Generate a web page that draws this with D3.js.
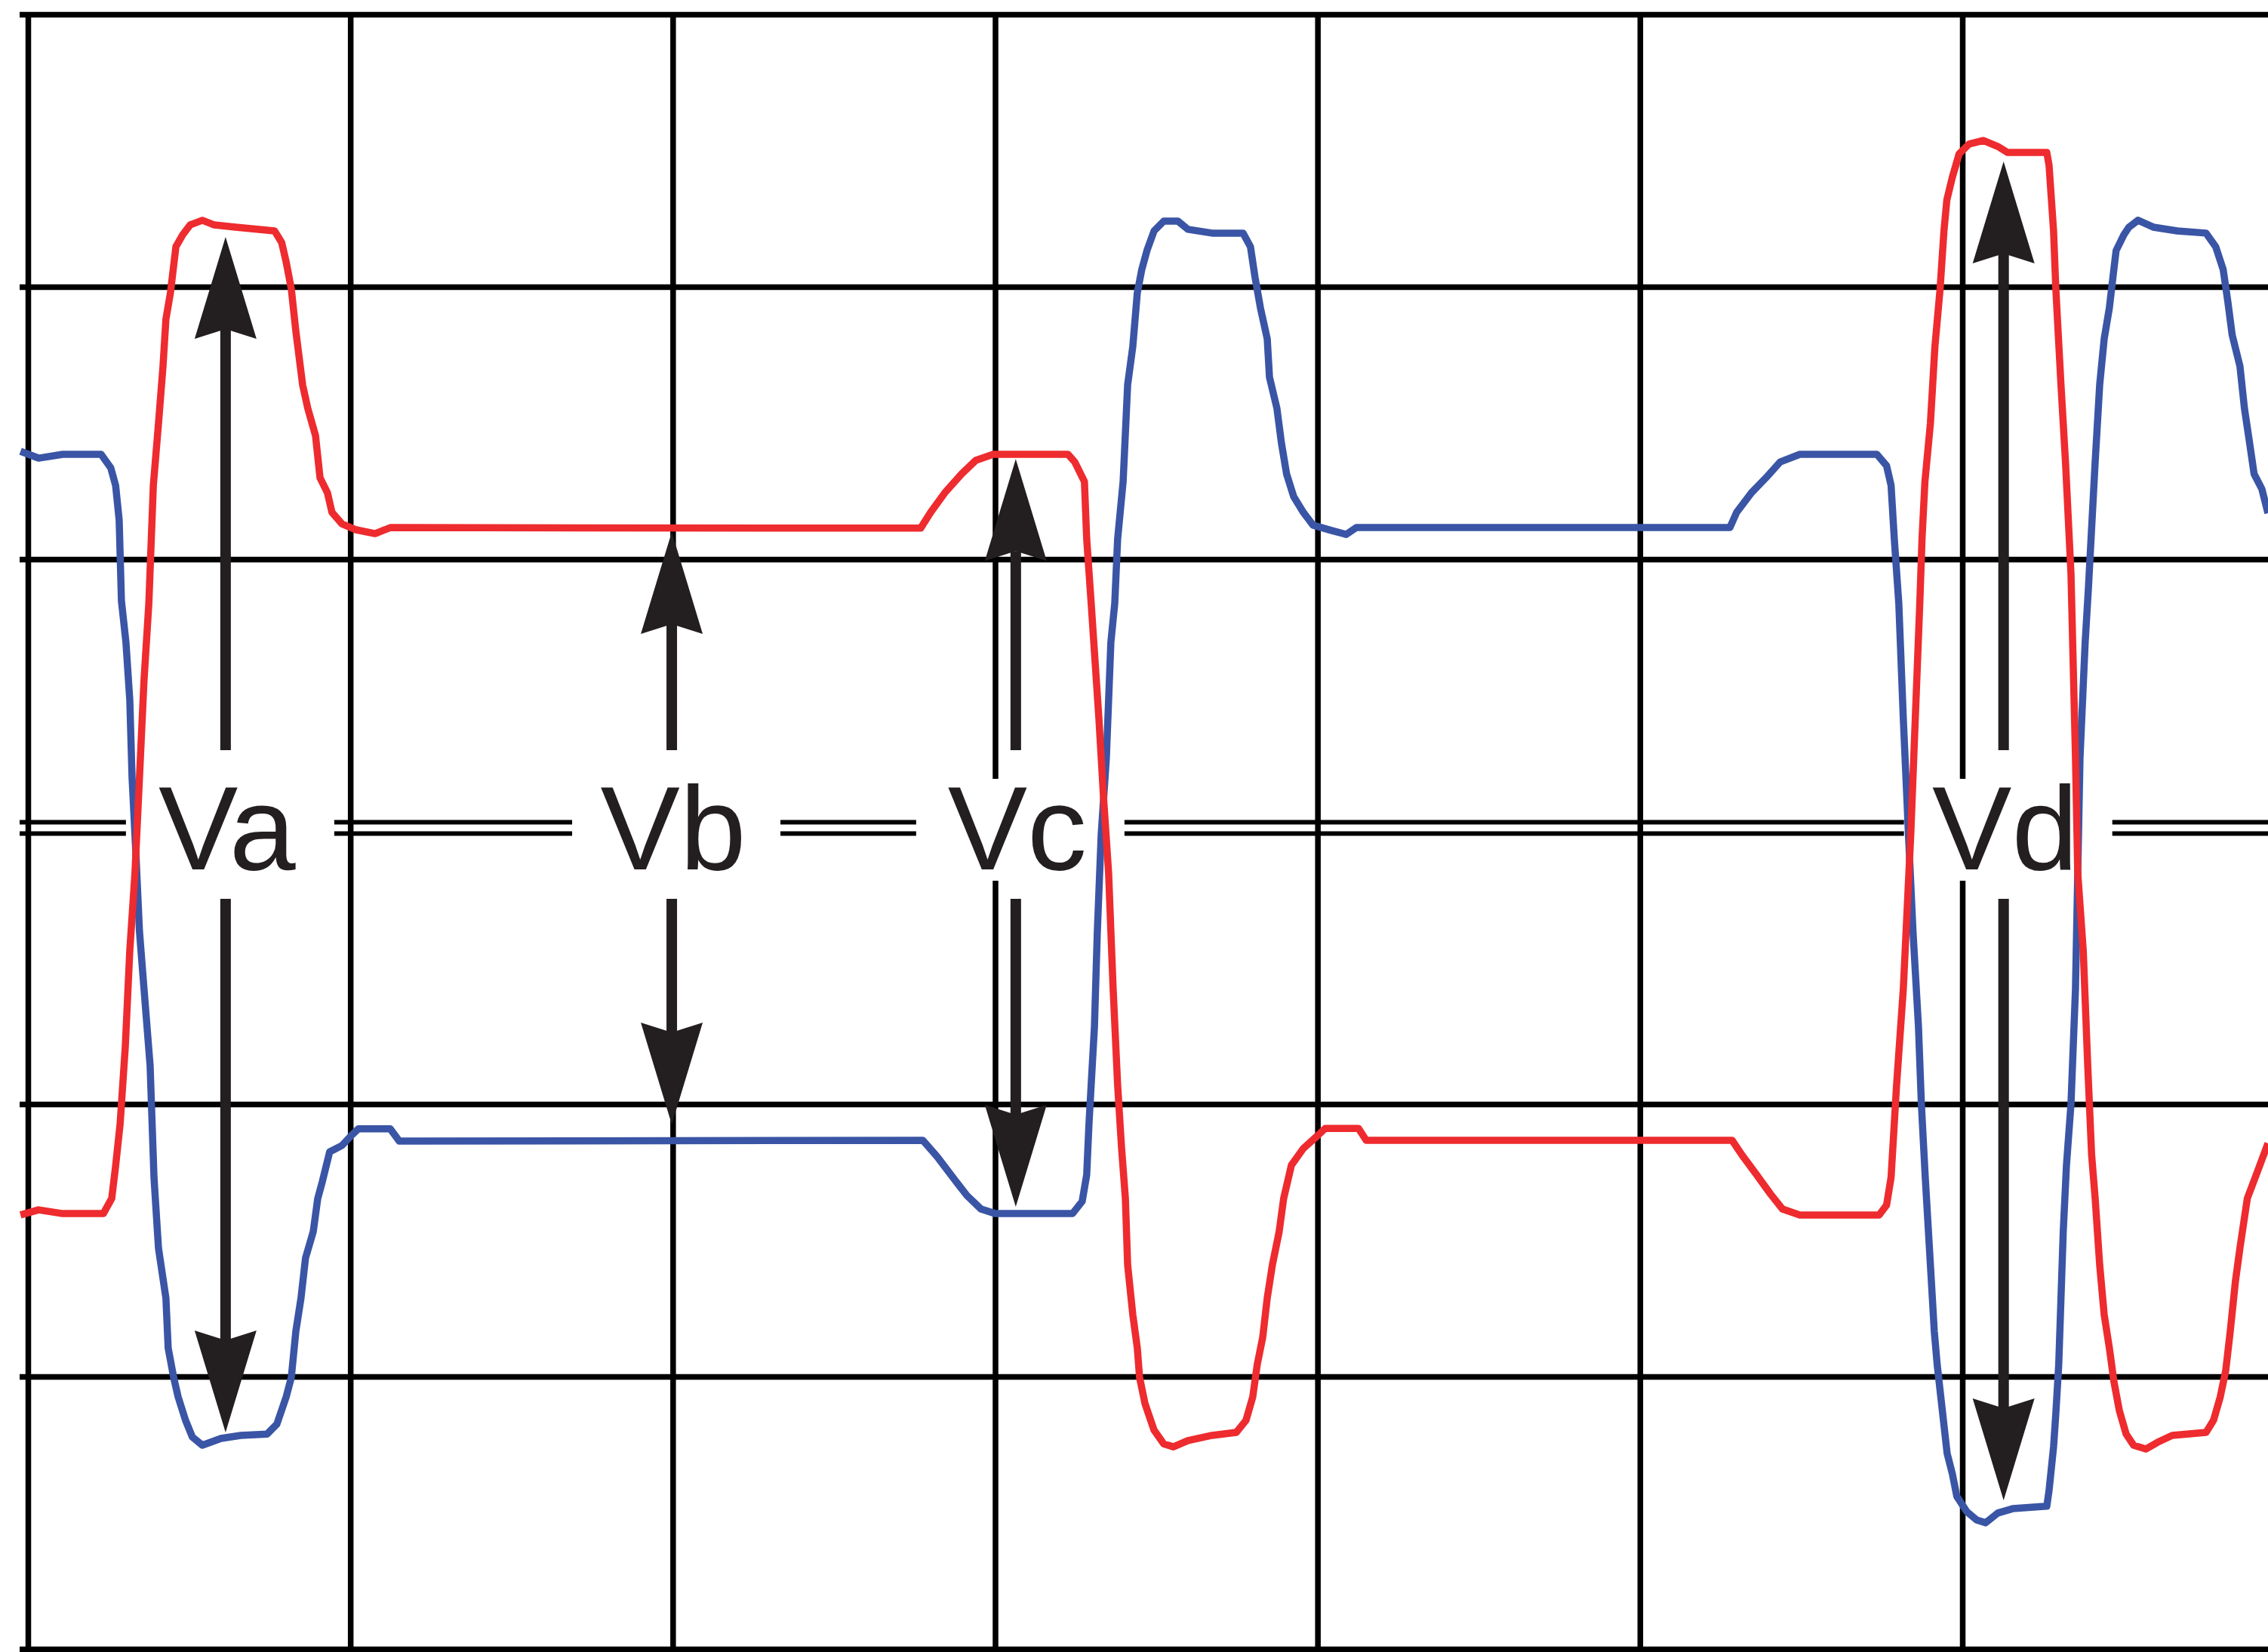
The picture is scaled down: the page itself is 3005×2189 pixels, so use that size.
<!DOCTYPE html>
<html>
<head>
<meta charset="utf-8">
<script src="https://cdn.jsdelivr.net/npm/d3@7"></script>
<style>
  html, body { margin: 0; padding: 0; background: #fff; }
  svg { display: block; }
</style>
</head>
<body>
<svg id="chart"></svg>
<script>
// time and voltage are both in scope divisions
const timeTicks = [0, 1, 2, 3, 4, 5, 6, 7];
const voltTicks = [-3, -2, -1, 1, 2, 3];

const redTrace = [
  [-0.023,-1.407],[0.033,-1.388],[0.108,-1.402],[0.234,-1.402],[0.260,-1.346],[0.272,-1.227],[0.286,-1.072],
  [0.302,-0.789],[0.316,-0.435],[0.332,-0.152],[0.346,0.199],[0.360,0.554],[0.375,0.837],[0.389,1.271],
  [0.405,1.499],[0.419,1.709],[0.428,1.881],[0.442,1.978],[0.459,2.147],[0.480,2.191],[0.503,2.227],
  [0.541,2.244],[0.578,2.227],[0.644,2.219],[0.765,2.205],[0.787,2.163],[0.801,2.091],[0.817,1.992],
  [0.831,1.837],[0.852,1.640],[0.868,1.554],[0.892,1.454],[0.906,1.299],[0.929,1.244],[0.943,1.172],
  [0.974,1.130],[1.018,1.108],[1.077,1.094],[1.124,1.116],[2.769,1.114],[2.800,1.172],[2.844,1.244],
  [2.896,1.313],[2.940,1.363],[2.994,1.385],[3.226,1.385],[3.247,1.357],[3.277,1.285],[3.284,1.075],
  [3.298,0.837],[3.322,0.413],[3.336,0.130],[3.352,-0.152],[3.366,-0.576],[3.380,-0.931],[3.392,-1.158],
  [3.404,-1.346],[3.411,-1.590],[3.427,-1.773],[3.441,-1.895],[3.448,-2.003],[3.465,-2.100],[3.493,-2.197],
  [3.523,-2.247],[3.553,-2.258],[3.598,-2.235],[3.673,-2.216],[3.748,-2.205],[3.778,-2.161],[3.799,-2.075],
  [3.813,-1.956],[3.830,-1.856],[3.844,-1.712],[3.860,-1.590],[3.881,-1.468],[3.895,-1.346],[3.919,-1.224],
  [3.956,-1.163],[4.000,-1.116],[4.024,-1.089],[4.127,-1.089],[4.151,-1.133],[5.286,-1.133],[5.316,-1.186],
  [5.361,-1.258],[5.405,-1.330],[5.442,-1.385],[5.496,-1.407],[5.742,-1.407],[5.765,-1.371],[5.779,-1.269],
  [5.796,-0.931],[5.817,-0.576],[5.840,-0.011],[5.854,0.413],[5.868,0.837],[5.875,1.075],[5.884,1.285],
  [5.901,1.499],[5.915,1.781],[5.931,1.992],[5.943,2.205],[5.952,2.319],[5.969,2.402],[5.990,2.488],
  [6.021,2.524],[6.065,2.537],[6.110,2.515],[6.140,2.493],[6.262,2.493],[6.269,2.446],[6.283,2.205],
  [6.290,1.992],[6.306,1.640],[6.320,1.357],[6.337,0.947],[6.351,0.271],[6.358,-0.152],[6.375,-0.435],
  [6.389,-0.859],[6.401,-1.186],[6.412,-1.346],[6.426,-1.590],[6.440,-1.773],[6.456,-1.895],[6.470,-2.017],
  [6.487,-2.125],[6.508,-2.211],[6.531,-2.252],[6.569,-2.266],[6.606,-2.241],[6.651,-2.216],[6.756,-2.205],
  [6.779,-2.161],[6.800,-2.075],[6.817,-1.978],[6.831,-1.834],[6.847,-1.651],[6.861,-1.529],[6.884,-1.346],
  [6.915,-1.249],[6.948,-1.144]
];

const blueTrace = [
  [-0.023,1.396],[0.033,1.371],[0.108,1.385],[0.227,1.385],[0.257,1.335],[0.272,1.271],[0.283,1.144],
  [0.290,0.848],[0.304,0.695],[0.316,0.482],[0.323,0.199],[0.335,-0.083],[0.346,-0.366],[0.360,-0.576],
  [0.379,-0.859],[0.391,-1.269],[0.405,-1.529],[0.428,-1.712],[0.435,-1.895],[0.452,-2.003],[0.466,-2.075],
  [0.489,-2.161],[0.510,-2.222],[0.541,-2.252],[0.599,-2.227],[0.660,-2.216],[0.742,-2.211],[0.772,-2.175],
  [0.801,-2.075],[0.817,-2.003],[0.831,-1.834],[0.847,-1.712],[0.861,-1.565],[0.885,-1.468],[0.899,-1.346],
  [0.913,-1.285],[0.936,-1.175],[0.974,-1.152],[1.004,-1.114],[1.025,-1.091],[1.124,-1.091],[1.152,-1.136],
  [2.776,-1.133],[2.821,-1.194],[2.865,-1.263],[2.912,-1.335],[2.956,-1.385],[3.001,-1.402],[3.240,-1.402],
  [3.270,-1.357],[3.284,-1.260],[3.291,-1.075],[3.308,-0.717],[3.317,-0.366],[3.329,-0.011],[3.345,0.271],
  [3.359,0.695],[3.371,0.837],[3.380,1.075],[3.397,1.285],[3.411,1.640],[3.427,1.781],[3.441,1.978],
  [3.455,2.064],[3.471,2.133],[3.493,2.205],[3.523,2.241],[3.567,2.241],[3.598,2.211],[3.673,2.197],
  [3.769,2.197],[3.792,2.147],[3.806,2.036],[3.823,1.922],[3.844,1.809],[3.851,1.668],[3.874,1.554],
  [3.888,1.427],[3.904,1.313],[3.926,1.230],[3.956,1.172],[3.986,1.125],[4.045,1.105],[4.089,1.091],
  [4.120,1.116],[5.279,1.116],[5.300,1.172],[5.346,1.244],[5.391,1.299],[5.435,1.357],[5.496,1.385],
  [5.735,1.385],[5.765,1.343],[5.779,1.271],[5.789,1.075],[5.803,0.837],[5.817,0.413],[5.833,-0.011],
  [5.847,-0.366],[5.864,-0.717],[5.873,-1.000],[5.885,-1.269],[5.901,-1.590],[5.913,-1.834],[5.922,-1.956],
  [5.939,-2.136],[5.953,-2.283],[5.969,-2.357],[5.983,-2.440],[6.014,-2.496],[6.044,-2.526],[6.072,-2.537],
  [6.110,-2.501],[6.156,-2.485],[6.262,-2.476],[6.269,-2.418],[6.283,-2.258],[6.290,-2.136],[6.299,-1.956],
  [6.306,-1.712],[6.313,-1.468],[6.323,-1.224],[6.337,-1.000],[6.351,-0.576],[6.358,-0.152],[6.365,0.271],
  [6.381,0.695],[6.391,0.892],[6.412,1.357],[6.426,1.640],[6.440,1.809],[6.456,1.922],[6.470,2.064],
  [6.477,2.133],[6.501,2.191],[6.517,2.219],[6.545,2.244],[6.592,2.219],[6.667,2.205],[6.756,2.197],
  [6.786,2.147],[6.809,2.064],[6.823,1.950],[6.837,1.823],[6.861,1.709],[6.875,1.554],[6.891,1.427],
  [6.905,1.313],[6.929,1.258],[6.948,1.169]
];

// measurement markers: label, where it sits, and the two levels the arrows point to
const labels = ["Va", "Vb", "Vc", "Vd"];
const labelTime = [0.613, 1.997, 3.064, 6.128];
const levelHigh = [2.183, 1.100, 1.368, 2.460];
const levelLow = [-2.205, -1.075, -1.377, -2.454];

const width = 3005, height = 2189;
const svg = d3.select("#chart").attr("width", width).attr("height", height);
svg.append("rect").attr("width", width).attr("height", height).attr("fill", "#fff");

const x = d3.scaleLinear().domain([0, 6]).range([37, 2600]);
const y = d3.scaleLinear().domain([-3, 3]).range([2185, 19]);
const y0 = y(0);

// vertical grid
svg.append("g")
  .attr("transform", `translate(0,${y(-3)})`)
  .call(d3.axisBottom(x).tickValues(timeTicks).tickSize(-(y(-3) - y(3))).tickFormat(""))
  .call(g => g.select(".domain").remove())
  .call(g => g.selectAll("line").attr("stroke", "#000").attr("stroke-width", 7.5));

// horizontal grid, sticks out a little to the left of the frame
svg.append("g")
  .attr("transform", "translate(26,0)")
  .call(d3.axisLeft(y).tickValues(voltTicks).tickSize(-(width - 26)).tickFormat(""))
  .call(g => g.select(".domain").remove())
  .call(g => g.selectAll("line").attr("stroke", "#000").attr("stroke-width", 7.5));

// double zero line
[y0 - 12.5, y0 + 2.5].forEach(yy => {
  svg.append("line")
    .attr("x1", 26).attr("x2", width)
    .attr("y1", yy).attr("y2", yy)
    .attr("stroke", "#000").attr("stroke-width", 6);
});

// white boxes behind the labels
svg.selectAll("rect.box")
  .data(labels)
  .enter()
  .append("rect")
  .attr("class", "box")
  .attr("x", (d, i) => x(labelTime[i]) - 132)
  .attr("y", y0 - 70)
  .attr("width", 276)
  .attr("height", 135)
  .attr("fill", "#fff");

// gap in the grid where an arrow shaft is broken for its label
svg.selectAll("rect.gap")
  .data(labels)
  .enter()
  .append("rect")
  .attr("class", "gap")
  .attr("x", (d, i) => x(labelTime[i]) - 10)
  .attr("y", y0 - 108)
  .attr("width", 20)
  .attr("height", 197)
  .attr("fill", "#fff");

svg.selectAll("text.lbl")
  .data(labels)
  .enter()
  .append("text")
  .attr("class", "lbl")
  .attr("x", (d, i) => x(labelTime[i]) + 2)
  .attr("y", y0 + 50)
  .attr("text-anchor", "middle")
  .attr("font-family", "'Liberation Sans', Arial, sans-serif")
  .attr("font-size", 158)
  .attr("fill", "#231f20")
  .text(d => d);

// arrows
const headLen = 135, headHalf = 41, notch = 13, shaft = 14;
function arrowHead(cx, tip, dir) {
  // dir = 1 means pointing up
  const base = tip + dir * headLen;
  return `M${cx},${tip} L${cx + headHalf},${base} L${cx},${base - dir * notch} L${cx - headHalf},${base} Z`;
}

const arrows = svg.append("g").attr("fill", "#231f20").attr("stroke", "#231f20");
labels.forEach((d, i) => {
  const cx = x(labelTime[i]);
  const up = y(levelHigh[i]);
  const down = y(levelLow[i]);
  arrows.append("line")
    .attr("x1", cx).attr("x2", cx)
    .attr("y1", up + headLen - notch).attr("y2", y0 - 108)
    .attr("stroke-width", shaft);
  arrows.append("line")
    .attr("x1", cx).attr("x2", cx)
    .attr("y1", y0 + 89).attr("y2", down - headLen + notch)
    .attr("stroke-width", shaft);
  arrows.append("path").attr("d", arrowHead(cx, up, 1)).attr("stroke", "none");
  arrows.append("path").attr("d", arrowHead(cx, down, -1)).attr("stroke", "none");
});

// traces
const line = d3.line()
  .x(d => x(d[0]))
  .y(d => y(d[1]));

svg.append("path")
  .datum(blueTrace)
  .attr("d", line)
  .attr("fill", "none")
  .attr("stroke", "#3a55a5")
  .attr("stroke-width", 9.5)
  .attr("stroke-linejoin", "round");

svg.append("path")
  .datum(redTrace)
  .attr("d", line)
  .attr("fill", "none")
  .attr("stroke", "#ee2b2e")
  .attr("stroke-width", 9.5)
  .attr("stroke-linejoin", "round");
</script>
</body>
</html>
